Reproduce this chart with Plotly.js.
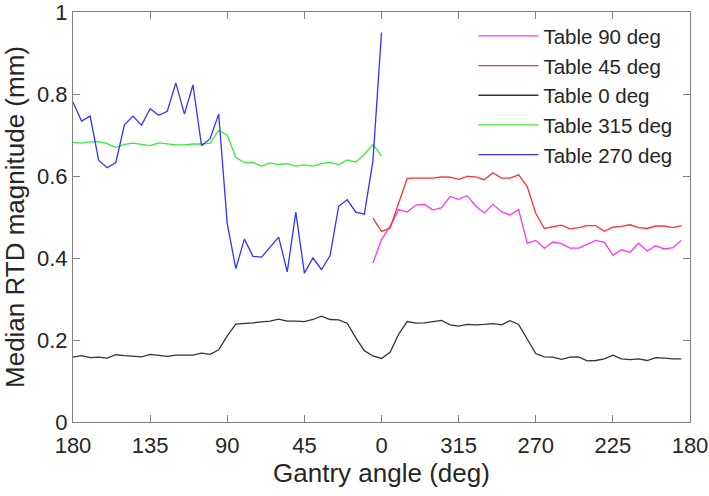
<!DOCTYPE html>
<html>
<head>
<meta charset="utf-8">
<script src="https://cdn.plot.ly/plotly-3.0.1.min.js"></script>
<style>html,body{margin:0;padding:0;background:#fff;}#chart{width:709px;height:496px;}</style>
</head>
<body>
<div id="chart"></div>
<script>
// x positions along the unwrapped gantry sweep (0 = gantry 180 on the left, 180 = gantry 0, 360 = gantry 180 on the right)
var xLeft = [0,5,10,15,20,25,30,35,40,45,50,55,60,65,70,75,80,85,90,95,100,105,110,115,120,125,130,135,140,145,150,155,160,165,170,175,180];
var xAll = [0,5,10,15,20,25,30,35,40,45,50,55,60,65,70,75,80,85,90,95,100,105,110,115,120,125,130,135,140,145,150,155,160,165,170,175,180,185,190,195,200,205,210,215,220,225,230,235,240,245,250,255,260,265,270,275,280,285,290,295,300,305,310,315,320,325,330,335,340,345,350,355];
var xRight = [175,180,185,190,195,200,205,210,215,220,225,230,235,240,245,250,255,260,265,270,275,280,285,290,295,300,305,310,315,320,325,330,335,340,345,350,355];

var tickPositions = [0,45,90,135,180,225,270,315,360];
var tickLabels = ['180','135','90','45','0','315','270','225','180'];
var yTickVals = [0,0.2,0.4,0.6,0.8,1];
var yTickLabels = ['0','0.2','0.4','0.6','0.8','1'];

var seriesNames = ['Table 90 deg','Table 45 deg','Table 0 deg','Table 315 deg','Table 270 deg'];

var table90 = [0.388,0.445,0.477,0.518,0.512,0.529,0.531,0.517,0.523,0.550,0.543,0.552,0.527,0.510,0.531,0.513,0.505,0.518,0.436,0.443,0.424,0.439,0.435,0.424,0.424,0.433,0.443,0.438,0.407,0.420,0.414,0.436,0.417,0.430,0.422,0.425,0.443];
var table45 = [0.497,0.465,0.473,0.534,0.594,0.595,0.595,0.595,0.598,0.597,0.592,0.599,0.598,0.591,0.608,0.595,0.595,0.603,0.574,0.509,0.472,0.476,0.480,0.471,0.474,0.479,0.479,0.465,0.475,0.477,0.481,0.474,0.472,0.478,0.478,0.474,0.479];
var table0 = [0.158,0.162,0.157,0.158,0.156,0.164,0.162,0.160,0.159,0.165,0.163,0.160,0.163,0.163,0.163,0.168,0.165,0.176,
              0.210,0.239,0.240,0.242,0.244,0.246,0.251,0.246,0.246,0.245,0.250,0.258,0.250,0.249,0.241,0.205,0.174,0.161,
              0.155,0.170,0.214,0.245,0.241,0.242,0.245,0.248,0.237,0.234,0.238,0.237,0.238,0.240,0.237,0.247,0.238,0.202,
              0.167,0.159,0.158,0.153,0.158,0.159,0.149,0.150,0.154,0.163,0.154,0.152,0.154,0.150,0.157,0.156,0.154,0.154];
var table315 = [0.682,0.680,0.683,0.684,0.679,0.670,0.677,0.680,0.677,0.674,0.681,0.678,0.676,0.676,0.678,0.678,0.680,0.711,0.700,0.645,0.633,0.633,0.624,0.632,0.628,0.630,0.624,0.627,0.624,0.630,0.633,0.628,0.639,0.634,0.653,0.677,0.649];
var table270 = [0.780,0.734,0.746,0.638,0.620,0.633,0.725,0.746,0.724,0.764,0.748,0.758,0.827,0.751,0.822,0.674,0.691,0.751,0.484,0.374,0.446,0.404,0.402,0.426,0.451,0.366,0.512,0.363,0.400,0.372,0.406,0.526,0.542,0.512,0.507,0.637,0.950];

var colors = ['#ff33ff','#ff3333','#333333','#33ee33','#3333ff'];
var xs = [xRight, xRight, xAll, xLeft, xLeft];
var ys = [table90, table45, table0, table315, table270];

var traces = [];
for (var i = 0; i < seriesNames.length; i++) {
  traces.push({
    x: xs[i], y: ys[i], type: 'scatter', mode: 'lines', name: seriesNames[i],
    line: {color: colors[i], width: 1.3}
  });
}

var fontFam = 'Liberation Sans, Arial, Helvetica, sans-serif';
var axColor = '#7f7f7f';

var layout = {
  width: 709, height: 496,
  margin: {l: 73, r: 19, t: 12, b: 74},
  paper_bgcolor: '#ffffff', plot_bgcolor: '#ffffff',
  font: {family: fontFam, color: '#262626'},
  showlegend: true,
  legend: {
    x: 0.649, xanchor: 'left', y: 0.99, yanchor: 'top',
    bgcolor: 'rgba(0,0,0,0)', borderwidth: 0,
    font: {size: 20.5, family: fontFam, color: '#262626'},
    itemwidth: 60, tracegroupgap: 0
  },
  xaxis: {
    range: [0, 360], tickmode: 'array', tickvals: tickPositions, ticktext: tickLabels,
    ticks: 'inside', ticklen: 7, tickcolor: axColor, tickwidth: 1,
    showline: true, linecolor: axColor, linewidth: 1, mirror: 'ticks',
    showgrid: false, zeroline: false, ticklabelstandoff: 4, ticklabeloverflow: 'allow',
    tickfont: {size: 22, family: fontFam, color: '#262626'},
    title: {text: 'Gantry angle (deg)', font: {size: 26, family: fontFam, color: '#262626'}, standoff: 1}
  },
  yaxis: {
    range: [0, 1], tickmode: 'array', tickvals: yTickVals, ticktext: yTickLabels,
    ticks: 'inside', ticklen: 7, tickcolor: axColor, tickwidth: 1,
    showline: true, linecolor: axColor, linewidth: 1, mirror: 'ticks',
    showgrid: false, zeroline: false, ticklabeloverflow: 'allow',
    tickfont: {size: 22, family: fontFam, color: '#262626'},
    title: {text: 'Median RTD magnitude (mm)', font: {size: 26, family: fontFam, color: '#262626'}, standoff: 5}
  }
};

Plotly.newPlot('chart', traces, layout, {displayModeBar: false, staticPlot: true});
</script>
</body>
</html>
